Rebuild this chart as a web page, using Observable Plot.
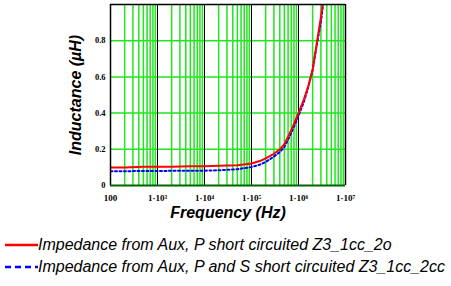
<!DOCTYPE html>
<html><head><meta charset="utf-8">
<script src="https://cdn.jsdelivr.net/npm/d3@7"></script>
<script src="https://cdn.jsdelivr.net/npm/@observablehq/plot@0.6"></script>
<style>
body{margin:0;background:#fff;}
#legend{font-family:"Liberation Sans",Arial,sans-serif;font-style:italic;font-size:16px;color:#000;margin-top:9px;}
.row{display:flex;align-items:center;height:22px;white-space:nowrap;}
.row svg{margin-left:5px;}
</style>
</head><body>
<div id="chart"></div>
<div id="legend"></div>
<script>
const freq = [100, 200, 500, 1e3, 2e3, 5e3, 1e4, 2e4, 5e4, 1e5, 1.5e5, 2e5, 3e5, 4e5, 5e5, 7e5, 1e6, 1.3e6, 1.6e6, 2e6, 2.5e6, 3e6, 3.5e6];
const redL = [0.100, 0.100, 0.103, 0.103, 0.104, 0.106, 0.107, 0.109, 0.112, 0.122, 0.135, 0.150, 0.175, 0.200, 0.228, 0.305, 0.400, 0.475, 0.545, 0.640, 0.800, 0.930, 1.060];
const blueL = [0.079, 0.079, 0.080, 0.080, 0.081, 0.081, 0.082, 0.084, 0.090, 0.102, 0.115, 0.130, 0.160, 0.185, 0.212, 0.290, 0.385, 0.462, 0.540, 0.640, 0.790, 0.905, 1.040];
const seriesNames = ["Impedance from Aux, P short circuited Z3_1cc_2o", "Impedance from Aux, P and S short circuited Z3_1cc_2cc"];
const decades = [100, 1e3, 1e4, 1e5, 1e6, 1e7];
const decadeLabels = ["100", "1·10³", "1·10⁴", "1·10⁵", "1·10⁶", "1·10⁷"];
const yTicks = [0, 0.2, 0.4, 0.6, 0.8];
const yTickLabels = ["0", "0.2", "0.4", "0.6", "0.8"];

const minor = decades.slice(0, -1).flatMap(d => [2,3,4,5,6,7,8,9].map(k => k * d));
const red = freq.map((f, i) => ({f, L: redL[i]}));
const blue = freq.map((f, i) => ({f, L: blueL[i]}));
const serif = "'Liberation Serif','Times New Roman',serif";
const sans = "'Liberation Sans',Arial,sans-serif";
const green = "#1fe61f";

const chart = Plot.plot({
  width: 451, height: 225,
  marginLeft: 110, marginRight: 106, marginTop: 4, marginBottom: 40,
  x: {type: "log", domain: [100, 1e7]},
  y: {domain: [0, 1]},
  style: {background: "white"},
  marks: [
    Plot.ruleX(minor, {stroke: green, strokeWidth: 1.5}),
    Plot.ruleY(yTicks.slice(1), {stroke: green, strokeWidth: 1.5}),
    Plot.ruleX(decades.slice(1, -1), {stroke: "black", strokeWidth: 1}),
    Plot.line(blue, {x: "f", y: "L", stroke: "#0000ff", strokeWidth: 2, strokeDasharray: "2,2.5", clip: true}),
    Plot.line(red, {x: "f", y: "L", stroke: "#ff0000", strokeWidth: 2, clip: true}),
    Plot.ruleX([100, 1e7], {stroke: "black", strokeWidth: 1.5}),
    Plot.ruleY([1], {stroke: "black", strokeWidth: 1.5}),
    Plot.ruleY([0], {stroke: "#006400", strokeWidth: 2}),
    Plot.axisX({ticks: decades, tickFormat: d => decadeLabels[decades.indexOf(d)], tickSize: 0, tickPadding: 9, label: null,
      fontFamily: serif, fontWeight: "bold", fontSize: 9, fill: "black"}),
    Plot.axisY({ticks: yTicks, tickFormat: d => yTickLabels[yTicks.indexOf(d)], tickSize: 0, tickPadding: 5, label: null,
      fontFamily: serif, fontWeight: "bold", fontSize: 8.5, fill: "black"}),
    Plot.text(["Frequency (Hz)"], {frameAnchor: "bottom", textAnchor: "middle", dy: 32, fontFamily: sans, fontWeight: "bold", fontStyle: "italic", fontSize: 16, fill: "black"}),
    Plot.text(["Inductance (µH)"], {frameAnchor: "left", textAnchor: "middle", dx: -35, dy: 0, rotate: -90, fontFamily: sans, fontWeight: "bold", fontStyle: "italic", fontSize: 16, fill: "black"})
  ]
});
document.getElementById("chart").appendChild(chart);

const legend = document.getElementById("legend");
const styles = [{stroke: "#ff0000", dash: ""}, {stroke: "#0000ff", dash: "6,4"}];
seriesNames.forEach((name, i) => {
  const row = document.createElement("div");
  row.className = "row";
  row.innerHTML = `<svg width="33" height="6"><line x1="0" x2="33" y1="3" y2="3" stroke="${styles[i].stroke}" stroke-width="2.5" stroke-dasharray="${styles[i].dash}"/></svg><span>${name}</span>`;
  legend.appendChild(row);
});
</script>
</body></html>
